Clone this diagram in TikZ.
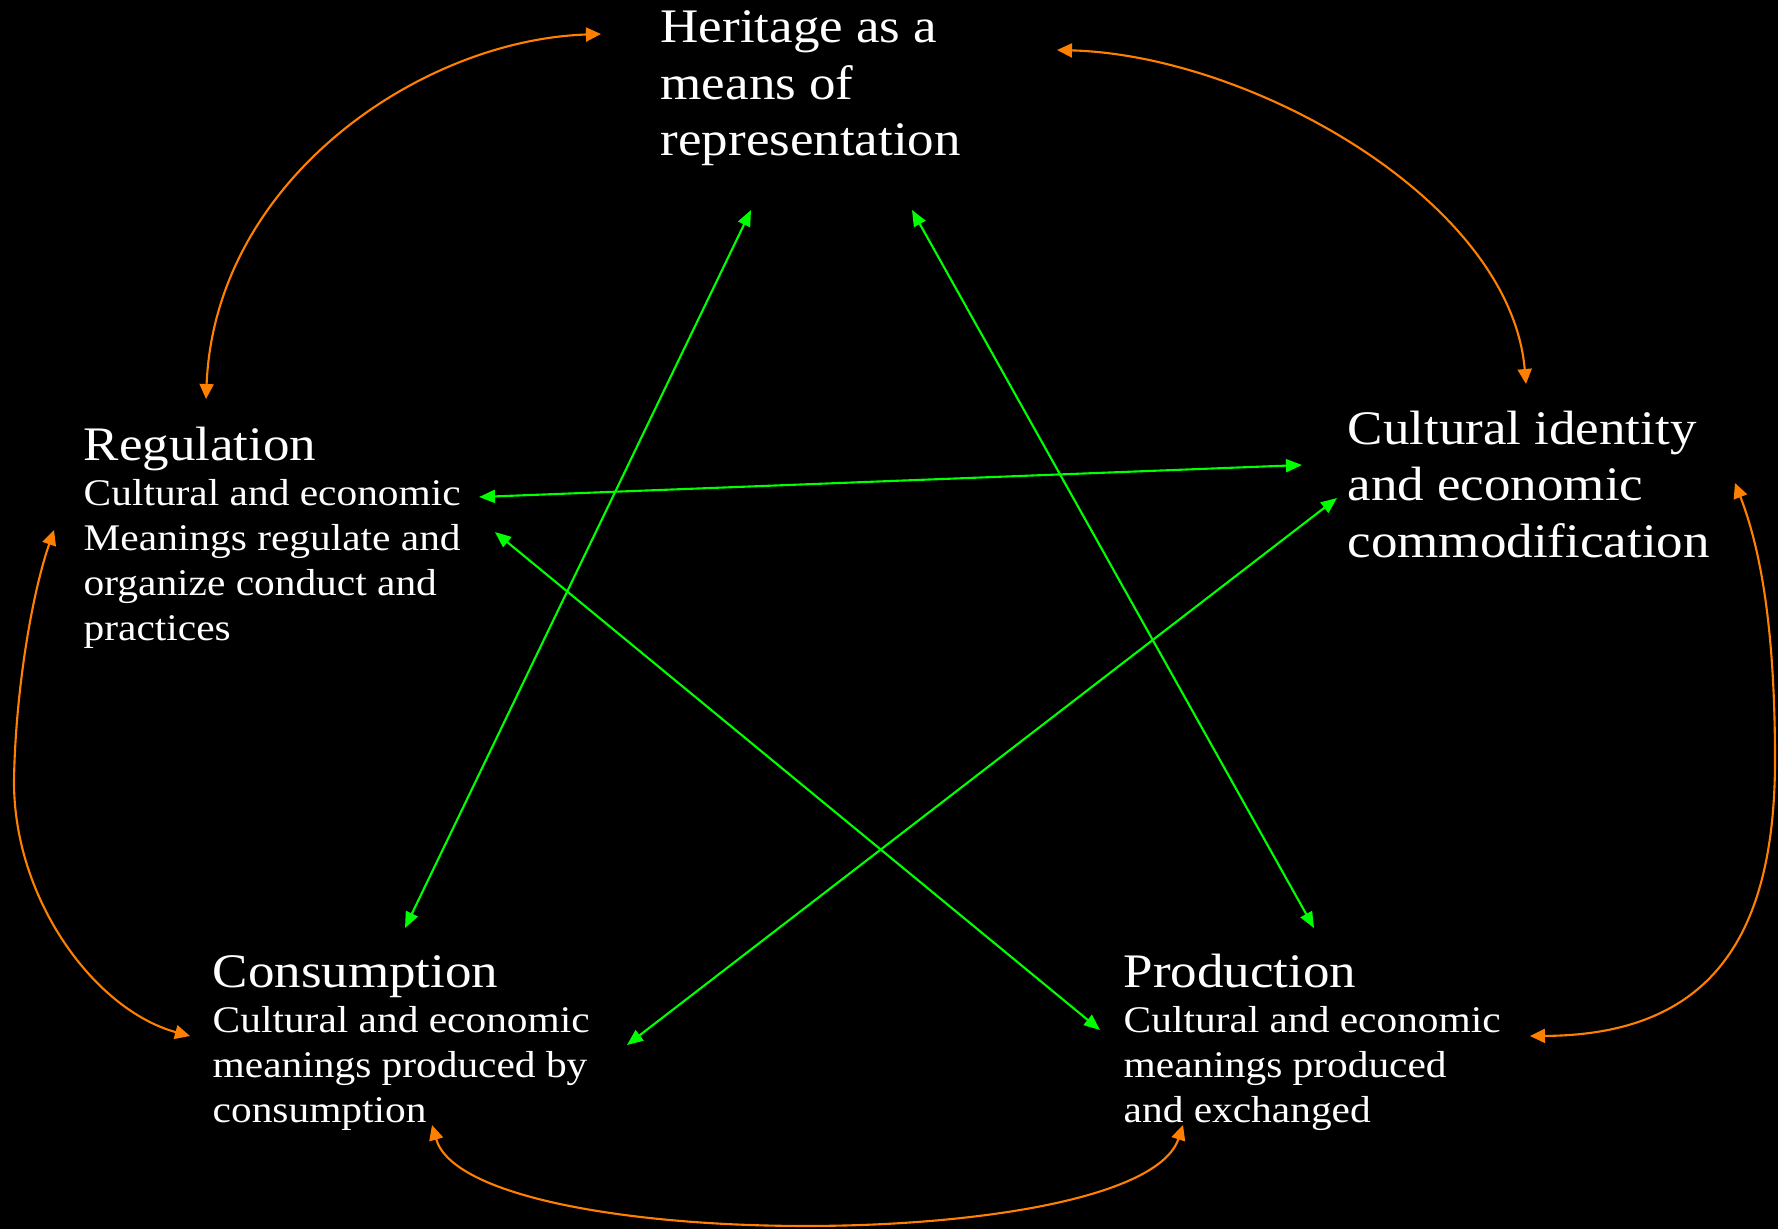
\documentclass[tikz,border=0pt]{standalone}
\usepackage{fontspec}
\setmainfont{Liberation Serif}[FakeStretch=1.1]
\usetikzlibrary{arrows.meta}
\pgfdeclarelayer{bg}
\pgfsetlayers{bg,main}
\definecolor{linkgreen}{RGB}{0,255,0}
\definecolor{arcorange}{RGB}{255,128,0}
\tikzset{
    every node/.style={inner sep=0mm, text=white, align=left},
    head/.style={anchor=base west, font=\fontsize{13.7}{16.1}\selectfont},
    body/.style={anchor=north west, font=\fontsize{10.7}{12.8}\selectfont},
    greenlink/.style={draw=linkgreen, line width=.6pt,
        {Triangle[length=1.6mm,width=1.3mm]}-{Triangle[length=1.6mm,width=1.3mm]}},
    orangearc/.style={draw=arcorange, line width=.6pt,
        {Triangle[length=1.5mm,width=1.4mm]}-{Triangle[length=1.5mm,width=1.4mm]}}
}

\begin{document}
\begin{tikzpicture}[x=0.01cm, y=-0.01cm]
    \useasboundingbox (0,0) rectangle (1778,1229);
    \node (her) [head, anchor=north west] at (660,10) {Heritage as a\\means of\\representation};
    \node (reg) [head] at (83,460) {Regulation};
    \node (regtxt) [body] at (83,479) {Cultural and economic\\Meanings regulate and\\organize conduct and\\practices};
    \node (cid) [head, anchor=north west] at (1347,410) {Cultural identity\\and economic\\commodification};
    \node (con) [head] at (212,987) {Consumption};
    \node (contxt) [body] at (212,1006) {Cultural and economic\\meanings produced by\\consumption};
    \node (pro) [head] at (1123,987) {Production};
    \node (protxt) [body] at (1123,1006) {Cultural and economic\\meanings produced\\and exchanged};

    % ends of the green links
    \coordinate (her-l) at (751,210);
    \coordinate (her-r) at (912,210);
    \coordinate (reg-r1) at (479,497);
    \coordinate (reg-r2) at (495,532);
    \coordinate (cid-l1) at (1302,465);
    \coordinate (cid-l2) at (1337,498);
    \coordinate (con-t) at (405,928);
    \coordinate (con-r) at (627,1045);
    \coordinate (pro-t) at (1314,928);
    \coordinate (pro-l) at (1100,1030);

    % ends of the orange arcs
    \coordinate (her-w) at (601,34);
    \coordinate (her-e) at (1057,50);
    \coordinate (reg-n) at (206,399);
    \coordinate (reg-w) at (54,530);
    \coordinate (cid-n) at (1526,384);
    \coordinate (cid-e) at (1735,483);
    \coordinate (con-w) at (190,1036);
    \coordinate (con-s) at (432,1125);
    \coordinate (pro-e) at (1530,1036);
    \coordinate (pro-s) at (1183,1125);

    \begin{pgfonlayer}{bg}
        \fill[black] (0,0) rectangle (1778,1229);
        \draw (her-l) edge[greenlink] (con-t);
        \draw (her-r) edge[greenlink] (pro-t);
        \draw (reg-r1) edge[greenlink] (cid-l1);
        \draw (reg-r2) edge[greenlink] (pro-l);
        \draw (cid-l2) edge[greenlink] (con-r);

        \draw[orangearc] (reg-n) .. controls (215,180) and (420,40) .. (her-w);
        \draw[orangearc] (her-e) .. controls (1250,55) and (1510,200) .. (cid-n);
        \draw[orangearc] (cid-e) .. controls (1765,560) and (1775,650) .. (1775,760)
            .. controls (1775,950) and (1700,1035) .. (pro-e);
        \draw[orangearc] (reg-w) .. controls (30,600) and (15,700) .. (14,782)
            .. controls (14,900) and (95,1010) .. (con-w);
        \draw[orangearc] (con-s) .. controls (470,1255) and (1140,1255) .. (pro-s);
    \end{pgfonlayer}
\end{tikzpicture}
\end{document}
